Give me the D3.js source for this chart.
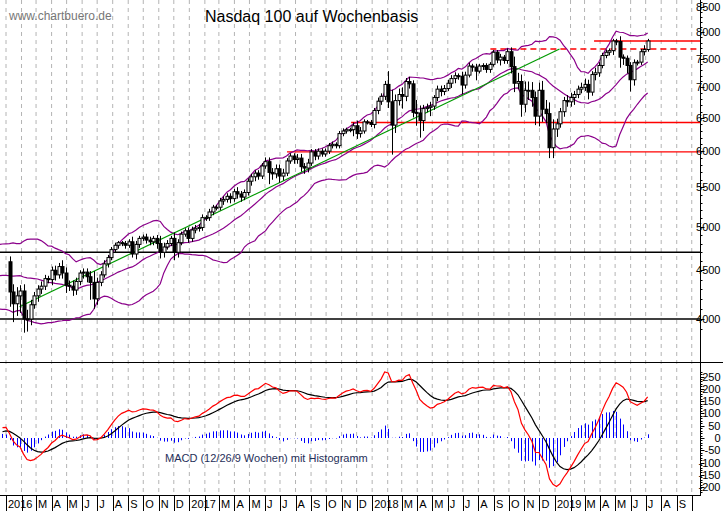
<!DOCTYPE html>
<html>
<head>
<meta charset="utf-8">
<script src="https://cdn.jsdelivr.net/npm/d3@7"></script>
<style>
  body { margin: 0; background: #fff; }
  svg { display: block; font-family: "Liberation Sans", Arial, sans-serif; }
</style>
</head>
<body>
<div id="chart"></div>
<script>
// weekly closes, Fridays starting 10 Jul 2015 (first 26 weeks only warm up the indicators)
const closes2015 = [4470,4560,4610,4580,4560,4580,4360,4250,4150,4250,4280,4200,4180,4330,4390,4560,4650,4670,4520,4620,4640,4570,4600,4470,4620,4593];
const closes2016 = [4270,4150,4230,4280, 4000,4000,4140,4230, 4300,4330,4410,4400, 4500,4450,4540,4470,4340, 4330,4290,4380,4470, 4480,4430,4370,4200, 4370,4450,4570,4640,4730, 4780,4810,4800,4780, 4820,4680,4790,4860,4875, 4840,4820,4860,4800, 4700,4760,4800,4860, 4700,4810,4910,4950,4860];
const closes2017 = [4960,4980,4990,5110, 5110,5180,5240,5240, 5320,5340,5380,5350,5440, 5410,5370,5430,5580, 5640,5690,5650,5790, 5850,5700,5680,5750,5650, 5690,5860,5930,5880, 5900,5780,5760,5830, 5990,5930,6000,5960,6000, 6080,6100,6080,6260, 6300,6320,6320,6380, 6260,6300,6440,6430,6400];
const closes2018 = [6620,6770,6850,7050, 6760,6390,6780,6880, 6850,7100,7060,6590,6580, 6460,6650,6670,6690, 6830,6970,6930,6980, 7070,7150,7200,7190,7040, 7210,7370,7350,7280, 7370,7380,7310,7400,7620, 7480,7530,7470,7630, 7360,7070,7100,6720, 6950,6950,6830,6530,6950, 6640,6570,6050,6330];
const closes2019 = [6410,6600,6780,6760, 6830,6880,6970,7000, 7050,6920,7220,7250,7380, 7560,7620,7650,7830, 7820,7530,7510,7380,7130, 7430,7440,7630,7670, 7830];

// wick lengths (points above max(open,close) / below min(open,close)) for the shown weeks 2016-2019
const wickUp = [60,80,90,60,70,90,50,40,40,50,40,30,40,50,40,70,60,50,60,40,30,40,40,60,120,50,40,40,30,30,30,20,20,30,30,60,40,30,30,40,40,30,40,90,50,40,30,70,40,30,30,40,
  40,40,40,40,30,40,30,30,40,40,40,40,40,60,40,40,40,40,40,40,40,60,60,60,60,60,60,40,40,40,60,60,50,60,40,40,40,40,40,40,40,30,40,40,30,30,50,80,60,40,30,40,
  40,60,50,60,230,200,100,100,120,60,80,60,200,120,60,60,70,40,60,60,60,60,60,60,40,80,60,60,40,60,40,40,40,40,40,40,60,40,60,80,180,150,120,150,150,140,100,130,160,150,180,150,
  80,60,60,90,80,60,60,80,100,80,60,90,60,50,50,40,40,40,100,50,50,60,60,40,50,80,40];
const wickDown = [150,180,120,170,130,120,60,40,60,50,40,40,60,60,40,60,80,50,60,50,40,60,60,180,100,60,40,30,40,30,30,40,30,40,30,40,60,40,30,40,40,40,60,70,60,30,30,90,60,30,30,50,
  40,40,40,40,40,40,40,40,40,50,40,60,40,60,60,40,40,60,60,50,40,40,160,80,60,90,60,40,40,60,60,70,80,60,40,60,50,40,40,40,40,40,40,40,40,40,100,80,60,40,30,40,
  60,60,60,60,100,440,120,80,200,80,80,80,200,260,160,60,140,60,60,80,60,40,80,80,60,160,60,40,80,160,40,70,60,60,40,60,100,60,60,120,150,100,200,130,160,150,140,160,200,150,150,150,
  120,60,80,80,80,120,60,70,60,120,60,100,70,50,50,60,80,70,190,120,140,200,100,50,50,70,40];

const priceTicks = [4000,4500,5000,5500,6000,6500,7000,7500,8000,8500];
const macdTicks = [-200,-150,-100,-50,0,50,100,150,200,250];
const monthLetters = ["J","F","M","A","M","J","J","A","S","O","N","D"];

// horizontal marks: [value, start date, colour, dashed]
const levels = [
  [4700, "2015-12-01", "#000", false],
  [4000, "2015-12-01", "#000", false],
  [6430, "2017-11-20", "#ff0000", false],
  [5990, "2017-07-15", "#ff0000", false],
  [7830, "2019-03-20", "#ff0000", false],
  [7680, "2018-08-25", "#ff0000", true]
];
const trend = [["2016-01-28", 4120], ["2019-01-10", 7680]];

const W = 723, H = 511, plotR = 700;
const closes = [].concat(closes2015, closes2016, closes2017, closes2018, closes2019);
const start = new Date(2015, 6, 10);
const dates = closes.map((c, i) => new Date(start.getTime() + i * 7 * 864e5));
const shown = closes2015.length;

const x = d3.scaleTime().domain([new Date(2016, 0, 1), new Date(2019, 0, 1)]).range([6, 555]);
const y = d3.scaleLog().domain([4000, 8500]).range([319, 7]);
const ym = d3.scaleLinear().domain([0, 250]).range([438, 376.5]);

// Bollinger 20/2
const boll = closes.map((c, i) => {
  if (i < 19) return null;
  const win = closes.slice(i - 19, i + 1);
  const m = d3.mean(win), s = Math.sqrt(d3.mean(win, v => (v - m) * (v - m)));
  return { d: dates[i], m: m, u: m + 2 * s, l: m - 2 * s };
}).filter(b => b);

// MACD 12/26/9
function ema(arr, n) { const k = 2 / (n + 1); let e = arr[0]; return arr.map(v => (e = v * k + e * (1 - k))); }
const e12 = ema(closes, 12), e26 = ema(closes, 26);
const macd = closes.map((c, i) => e12[i] - e26[i]);
const signal = ema(macd, 9);

const svg = d3.select("#chart").append("svg").attr("width", W).attr("height", H);
svg.append("clipPath").attr("id", "cm").append("rect").attr("x", 0).attr("y", 0).attr("width", plotR).attr("height", 362);
svg.append("clipPath").attr("id", "cd").append("rect").attr("x", 0).attr("y", 363).attr("width", plotR).attr("height", 132);

// month grid
const months = d3.timeMonth.range(new Date(2016, 0, 1), new Date(2019, 9, 2)).filter(d => x(d) < plotR - 2);
svg.append("g").selectAll("line").data(months).join("line")
  .attr("x1", d => x(d)).attr("x2", d => x(d)).attr("y1", 0).attr("y2", 495)
  .attr("stroke", "#b4b4b4").attr("stroke-dasharray", "4,4");

const main = svg.append("g").attr("clip-path", "url(#cm)");
levels.forEach(l => {
  main.append("line").attr("x1", x(new Date(l[1]))).attr("x2", plotR)
    .attr("y1", y(l[0])).attr("y2", y(l[0])).attr("stroke", l[2]).attr("stroke-width", 1.3)
    .attr("stroke-dasharray", l[3] ? "6,4" : null);
});

["u", "m", "l"].forEach(k => {
  main.append("path").datum(boll).attr("fill", "none").attr("stroke", "#8b008b").attr("stroke-width", 1.2)
    .attr("d", d3.line().x(b => x(b.d)).y(b => y(b[k])));
});
main.append("line").attr("x1", x(new Date(trend[0][0]))).attr("y1", y(trend[0][1]))
  .attr("x2", x(new Date(trend[1][0]))).attr("y2", y(trend[1][1])).attr("stroke", "#009a00").attr("stroke-width", 1.2);

// candles
const candles = closes.map((c, i) => i < shown ? null : {
  d: dates[i], o: closes[i - 1], c: c,
  h: Math.max(closes[i - 1], c) + (wickUp[i - shown] || 40),
  l: Math.min(closes[i - 1], c) - (wickDown[i - shown] || 40)
}).filter(d => d);
const cg = main.append("g").selectAll("g").data(candles).join("g");
cg.append("line").attr("x1", d => Math.round(x(d.d)) + 0.5).attr("x2", d => Math.round(x(d.d)) + 0.5)
  .attr("y1", d => y(d.h)).attr("y2", d => y(d.l)).attr("stroke", "#000");
cg.append("rect").attr("x", d => Math.round(x(d.d)) - 1).attr("width", 3)
  .attr("y", d => y(Math.max(d.o, d.c))).attr("height", d => Math.max(1, Math.abs(y(d.o) - y(d.c))))
  .attr("fill", d => d.c >= d.o ? "#fff" : "#000").attr("stroke", "#000").attr("stroke-width", 1);

// MACD panel
const md = svg.append("g").attr("clip-path", "url(#cd)");
const idx = d3.range(shown - 2, closes.length);
md.selectAll("line").data(idx).join("line")
  .attr("x1", i => Math.round(x(dates[i])) + 0.5).attr("x2", i => Math.round(x(dates[i])) + 0.5)
  .attr("y1", ym(0)).attr("y2", i => ym(macd[i] - signal[i])).attr("stroke", "#0000ff");
md.append("path").datum(idx).attr("fill", "none").attr("stroke", "#000").attr("stroke-width", 1.2)
  .attr("d", d3.line().x(i => x(dates[i])).y(i => ym(signal[i])));
md.append("path").datum(idx).attr("fill", "none").attr("stroke", "#ff0000").attr("stroke-width", 1.2)
  .attr("d", d3.line().x(i => x(dates[i])).y(i => ym(macd[i])));

// frame lines
svg.append("line").attr("x1", 0).attr("x2", W).attr("y1", 362.5).attr("y2", 362.5).attr("stroke", "#000");
svg.append("line").attr("x1", 0).attr("x2", plotR).attr("y1", 495.5).attr("y2", 495.5).attr("stroke", "#000");
svg.append("line").attr("x1", plotR + 0.5).attr("x2", plotR + 0.5).attr("y1", 0).attr("y2", 496).attr("stroke", "#000");

// right axes
const ax = svg.append("g").attr("transform", `translate(${plotR + 0.5},0)`);
ax.selectAll(".mn").data(d3.range(3900, 8700, 100)).join("line")
  .attr("x1", 0).attr("x2", 2).attr("y1", v => Math.round(y(v)) + 0.5).attr("y2", v => Math.round(y(v)) + 0.5).attr("stroke", "#000");
ax.selectAll(".mj").data(priceTicks).join("line")
  .attr("x1", 0).attr("x2", 4).attr("y1", v => Math.round(y(v)) + 0.5).attr("y2", v => Math.round(y(v)) + 0.5).attr("stroke", "#000");
ax.selectAll(".pt").data(priceTicks).join("text")
  .attr("x", 20).attr("y", v => y(v) + 4).attr("text-anchor", "end").attr("font-size", 11).text(v => v);
ax.selectAll(".mm").data(d3.range(-220, 280, 10)).join("line")
  .attr("x1", 0).attr("x2", 2).attr("y1", v => Math.round(ym(v)) + 0.5).attr("y2", v => Math.round(ym(v)) + 0.5).attr("stroke", "#000");
ax.selectAll(".mk").data(macdTicks).join("line")
  .attr("x1", 0).attr("x2", 4).attr("y1", v => Math.round(ym(v)) + 0.5).attr("y2", v => Math.round(ym(v)) + 0.5).attr("stroke", "#000");
ax.selectAll(".mt").data(macdTicks).join("text")
  .attr("x", 20).attr("y", v => ym(v) + 4).attr("text-anchor", "end").attr("font-size", 11).text(v => v);

// bottom month labels
const bx = svg.append("g");
bx.selectAll("line").data(months).join("line")
  .attr("x1", d => Math.round(x(d)) + 0.5).attr("x2", d => Math.round(x(d)) + 0.5)
  .attr("y1", 496).attr("y2", 511).attr("stroke", "#000");
bx.selectAll("text").data(months.filter(d => d.getMonth() !== 1 && x(d) < 686)).join("text")
  .attr("x", d => x(d) + 2).attr("y", 508).attr("font-size", 11)
  .text(d => d.getMonth() === 0 ? d.getFullYear() : monthLetters[d.getMonth()]);

// texts
svg.append("text").attr("x", 9).attr("y", 20).attr("font-size", 12).attr("fill", "#777").text("www.chartbuero.de");
svg.append("text").attr("x", 205).attr("y", 22).attr("font-size", 16).attr("fill", "#000").text("Nasdaq 100 auf Wochenbasis");
svg.append("text").attr("x", 165).attr("y", 462).attr("font-size", 11).attr("fill", "#1f2f5a").text("MACD (12/26/9 Wochen) mit Histogramm");
</script>
</body>
</html>
